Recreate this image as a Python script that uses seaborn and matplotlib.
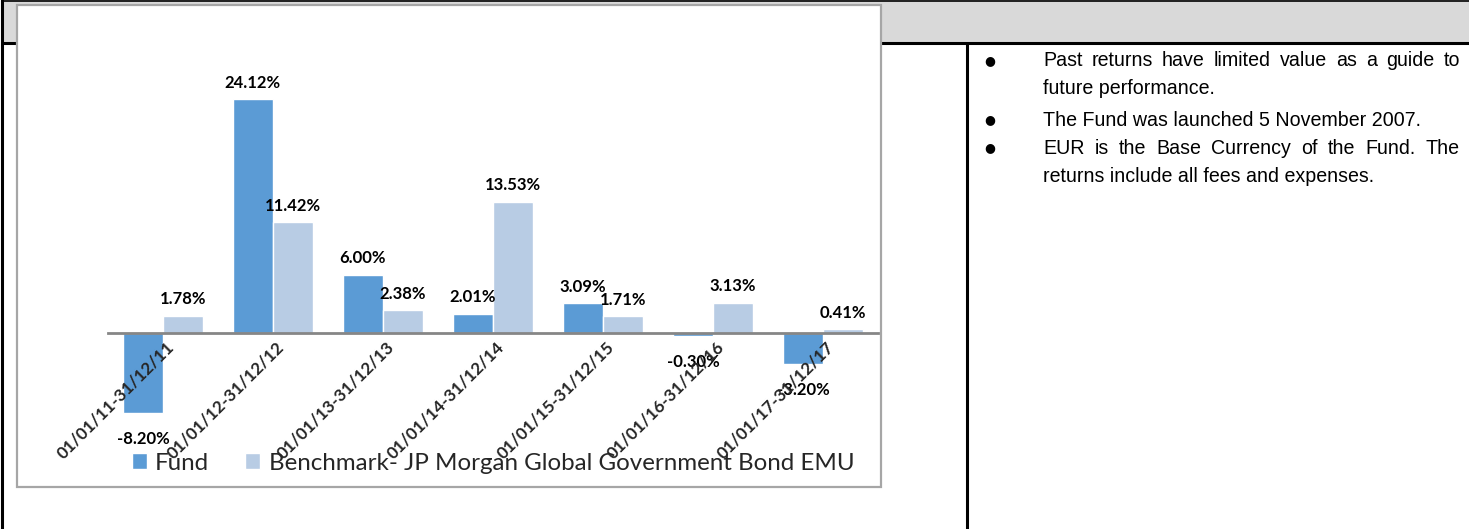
import matplotlib.pyplot as plt
import matplotlib.transforms as mtransforms
from matplotlib.patches import Rectangle
import pandas as pd
import seaborn as sns

W, H = 1469, 529

periods = [
    '01/01/11-31/12/11', '01/01/12-31/12/12', '01/01/13-31/12/13',
    '01/01/14-31/12/14', '01/01/15-31/12/15', '01/01/16-31/12/16',
    '01/01/17-31/12/17',
]
fund = [-8.20, 24.12, 6.00, 2.01, 3.09, -0.30, -3.20]
benchmark = [1.78, 11.42, 2.38, 13.53, 1.71, 3.13, 0.41]
series_names = ['Fund', 'Benchmark- JP Morgan Global Government Bond EMU']

notes = [
    ('Past returns have limited value as a guide to', True, True),
    ('future performance.', False, False),
    ('The Fund was launched 5 November 2007.', True, False),
    ('EUR is the Base Currency of the Fund. The', True, True),
    ('returns include all fees and expenses.', False, False),
]

df = pd.DataFrame({
    'period': periods * 2,
    'value': fund + benchmark,
    'series': [series_names[0]] * len(periods) + [series_names[1]] * len(periods),
})

sns.set_theme(style='white')
plt.rcParams['font.family'] = ['Lato', 'DejaVu Sans']

fig = plt.figure(figsize=(W / 100, H / 100), dpi=100)

# page / table background in pixel coordinates
bg = fig.add_axes([0, 0, 1, 1], zorder=0)
bg.set_xlim(0, W)
bg.set_ylim(H, 0)
bg.set_axis_off()
bg.add_patch(Rectangle((2, 0), W, 43, facecolor='#d9d9d9', edgecolor='none'))
bg.plot([2, W], [0.5, 0.5], color='black', lw=1.2)
bg.plot([2, W], [43, 43], color='black', lw=2.2)
bg.plot([2, 2], [0, H], color='black', lw=2.2)
bg.plot([967, 967], [43, H], color='black', lw=2.2)
bg.add_patch(Rectangle((17, 5), 864, 482, facecolor='white',
                       edgecolor='#a6a6a6', lw=1.6, zorder=3))

# bullet notes on the right
renderer = fig.canvas.get_renderer()
ys = [61, 89, 120, 148, 176]
for (line, bullet, justify), y in zip(notes, ys):
    if bullet:
        bg.text(990, y, '\u25cf', fontsize=9, ha='center', va='center',
                family=['DejaVu Sans'], color='black')
    kw = dict(fontsize=14.1, va='center', family=['Liberation Sans', 'DejaVu Sans'],
              color='black')
    if not justify:
        bg.text(1043, y, line, ha='left', **kw)
        continue
    words = line.split()
    widths = []
    for w in words:
        t = bg.text(0, 0, w, **kw)
        widths.append(t.get_window_extent(renderer).width)
        t.remove()
    gap = (1460 - 1043 - sum(widths)) / (len(words) - 1)
    x = 1043
    for w, wd in zip(words, widths):
        bg.text(x, y, w, ha='left', **kw)
        x += wd + gap

# chart axes: zero line at y=333 px, 9.7 px per %
ymin, ymax = -12, 28
ppu = 9.7
zero_px = 333
bottom_px = H - (zero_px + (-ymin) * ppu)
ax = fig.add_axes([108 / W, bottom_px / H, 770 / W, (ymax - ymin) * ppu / H],
                  zorder=2)
ax.patch.set_alpha(0)

sns.barplot(data=df, x='period', y='value', hue='series',
            palette=['#5b9bd5', '#b8cce4'], saturation=1, width=0.73,
            ax=ax)

ax.set_ylim(ymin, ymax)
ax.set_xlim(-0.5, len(periods) - 0.5)
ax.set_xlabel('')
ax.set_ylabel('')
ax.set_yticks([])
ax.set_axisbelow(False)
ax.xaxis.set_zorder(6)
for s in ['top', 'right', 'left']:
    ax.spines[s].set_visible(False)
ax.spines['bottom'].set_position(('data', 0))
ax.spines['bottom'].set_color('#868686')
ax.spines['bottom'].set_linewidth(2)
ax.spines['bottom'].set_zorder(5)
ax.tick_params(axis='x', length=0, pad=8)

offset = mtransforms.ScaledTranslation(0.08, 0, fig.dpi_scale_trans)
for lab in ax.get_xticklabels():
    lab.set_rotation(45)
    lab.set_ha('right')
    lab.set_va('center')
    lab.set_rotation_mode('anchor')
    lab.set_fontsize(12.3)
    lab.set_fontweight('bold')
    lab.set_transform(lab.get_transform() + offset)

for cont, vals in zip(ax.containers, [fund, benchmark]):
    anns = ax.bar_label(cont, labels=[f'{v:.2f}%' for v in vals], padding=6,
                        fontsize=12, fontweight='bold', color='black')
    for a, v in zip(anns, vals):
        if v < 0:
            a.xyann = (0, -13)

sns.move_legend(ax, 'center', bbox_to_anchor=(493 / W, 66 / H),
                bbox_transform=fig.transFigure, ncol=2, frameon=False,
                title=None, fontsize=17.4, handlelength=0.62, handleheight=0.62,
                handletextpad=0.35, columnspacing=1.5)

fig.savefig('out.png', dpi=100)
